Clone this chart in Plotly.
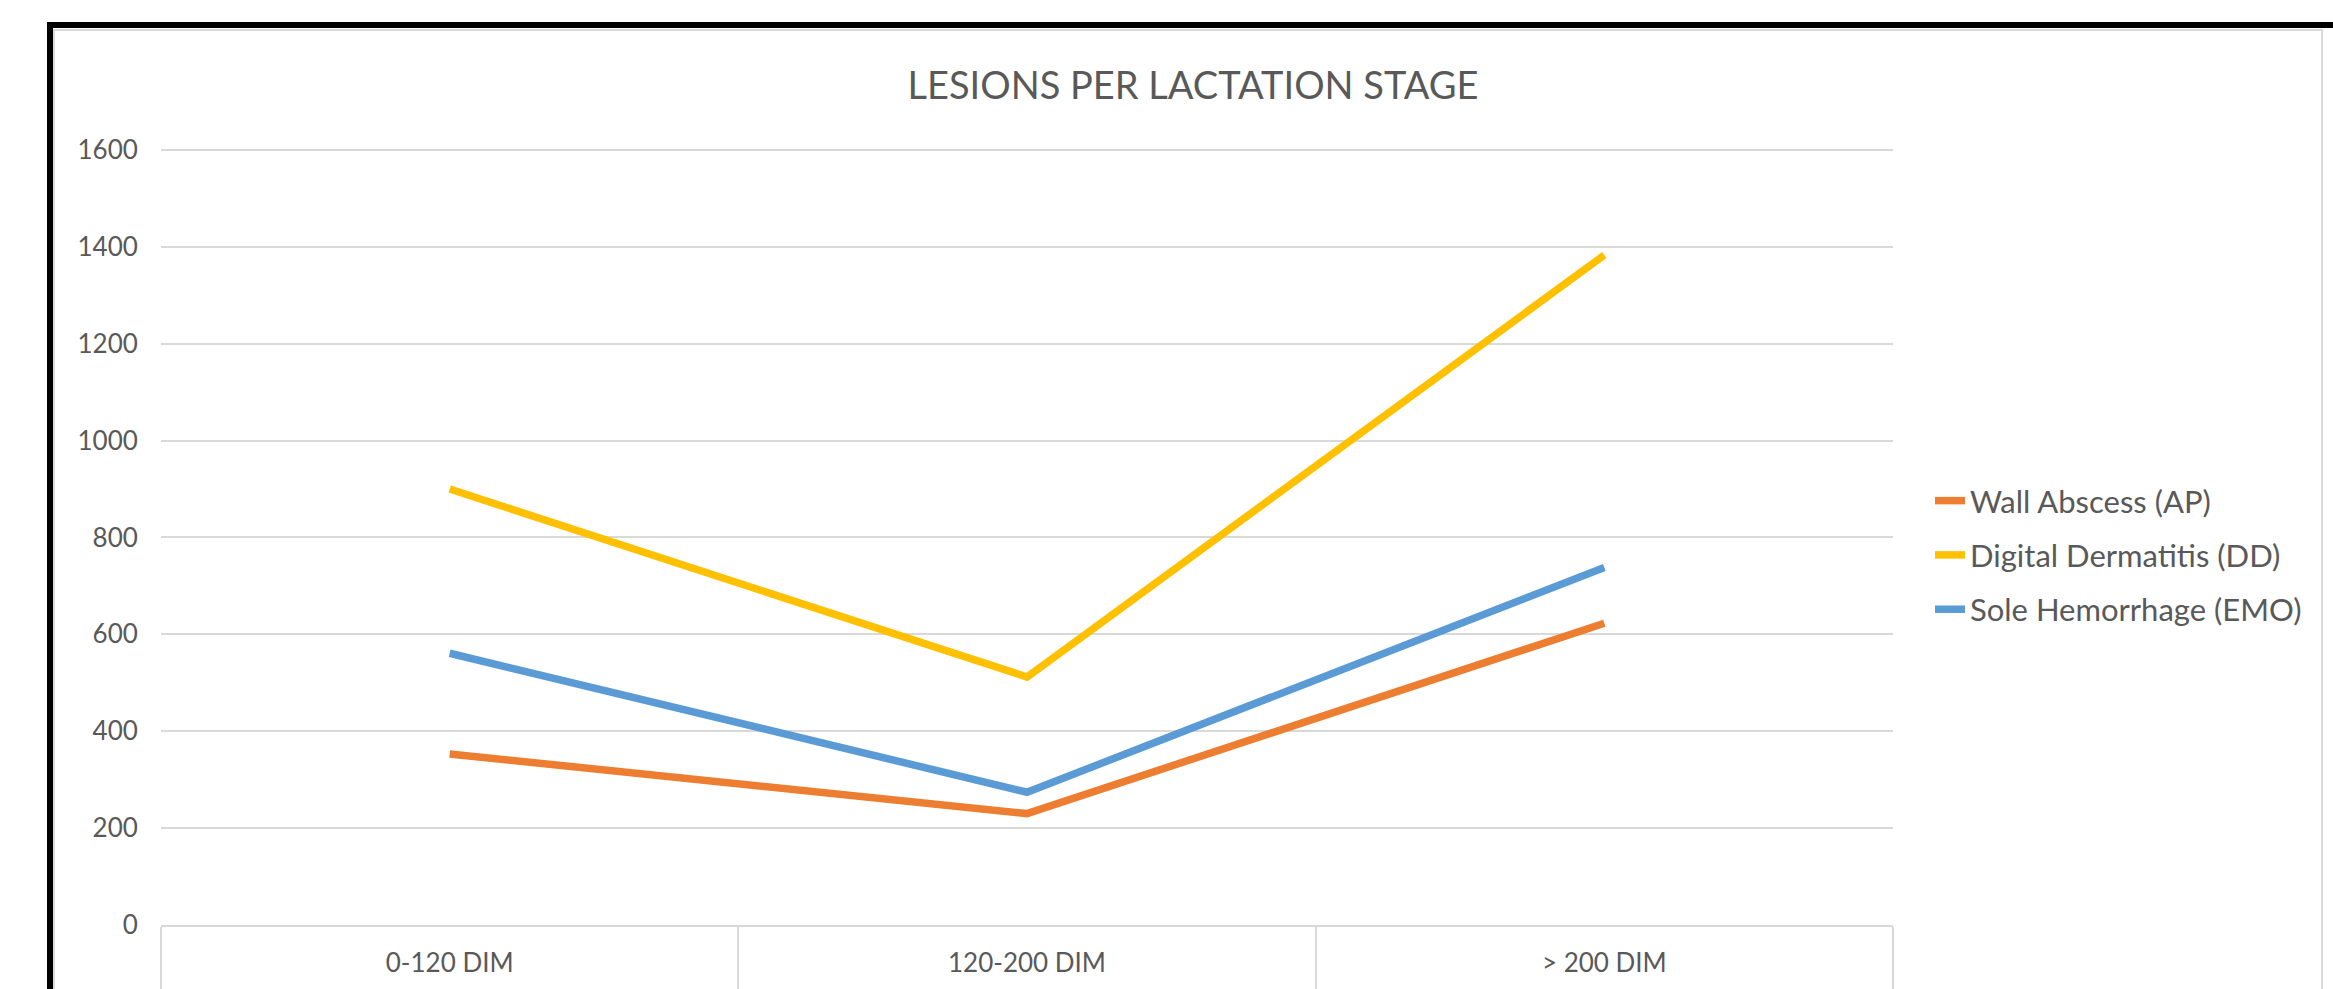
import plotly.graph_objects as go

# ---- data ----
categories = ["0-120 DIM", "120-200 DIM", "> 200 DIM"]
wall_abscess = [353, 230, 623]
digital_dermatitis = [900, 512, 1383]
sole_hemorrhage = [561, 274, 738]
series_names = ["Wall Abscess (AP)", "Digital Dermatitis (DD)", "Sole Hemorrhage (EMO)"]
series_colors = ["#ED7D31", "#FFC000", "#5B9BD5"]
title_text = "LESIONS PER LACTATION STAGE"
y_ticks = [0, 200, 400, 600, 800, 1000, 1200, 1400, 1600]

# ---- geometry (pixels) ----
W, H = 2333, 989
Y_MAX = 1604
PL, PR, PB = 161, 1893, 925
PT = 150 - (Y_MAX - 1600) * (775 / 1600)
FONT = "Lato, Open Sans, sans-serif"
TXT = "#595959"
GRID = "#d9d9d9"


def px(x):
    return (x - PL) / (PR - PL)


def py(y):
    return (PB - y) / (PB - PT)


fig = go.Figure()
for i, (name, vals, col) in enumerate(
    zip(series_names, [wall_abscess, digital_dermatitis, sole_hemorrhage], series_colors)
):
    fig.add_trace(
        go.Scatter(
            x=categories,
            y=vals,
            name=name,
            mode="lines",
            line=dict(color=col, width=7.5),
            legendgroup=f"g{i}",
        )
    )

fig.update_layout(
    width=W,
    height=H,
    autosize=False,
    margin=dict(l=PL, r=W - PR, t=PT, b=H - PB, pad=0, autoexpand=False),
    paper_bgcolor="white",
    plot_bgcolor="white",
    font=dict(family=FONT, color=TXT, size=26),
    title=dict(
        text=title_text,
        x=1193 / W,
        xref="container",
        xanchor="center",
        y=1 - 86 / H,
        yref="container",
        yanchor="middle",
        font=dict(family=FONT, size=38, color=TXT),
    ),
    showlegend=True,
    legend=dict(
        x=px(1930),
        y=py(555),
        xanchor="left",
        yanchor="middle",
        font=dict(family=FONT, size=31, color=TXT),
        tracegroupgap=11,
        traceorder="grouped",
        bgcolor="rgba(0,0,0,0)",
    ),
    xaxis=dict(
        type="category",
        range=[-0.5, 2.5],
        automargin=False,
        showgrid=False,
        zeroline=False,
        showline=True,
        linecolor=GRID,
        linewidth=2,
        ticks="outside",
        tickson="boundaries",
        ticklen=90,
        tickwidth=2,
        tickcolor=GRID,
        ticklabelstandoff=14,
        tickfont=dict(family=FONT, size=26, color=TXT),
    ),
    yaxis=dict(
        range=[0, Y_MAX],
        automargin=False,
        tickvals=y_ticks,
        showgrid=True,
        gridcolor=GRID,
        gridwidth=2,
        zeroline=False,
        showline=False,
        ticks="outside",
        ticklen=17,
        tickcolor="rgba(0,0,0,0)",
        tickfont=dict(family=FONT, size=26, color=TXT),
    ),
    shapes=[
        dict(type="rect", xref="paper", yref="paper",
             x0=px(54), x1=px(2322), y0=py(1100), y1=py(30),
             line=dict(color=GRID, width=2), layer="below"),
        dict(type="line", xref="paper", yref="paper",
             x0=px(47), x1=px(2400), y0=py(25), y1=py(25),
             line=dict(color="black", width=6)),
        dict(type="line", xref="paper", yref="paper",
             x0=px(50), x1=px(50), y0=py(22), y1=py(1100),
             line=dict(color="black", width=6)),
    ],
)

fig.write_html(
    "out.html",
    config={"displayModeBar": False},
    post_script="document.body.style.margin='0px';document.body.style.overflow='hidden';",
)
